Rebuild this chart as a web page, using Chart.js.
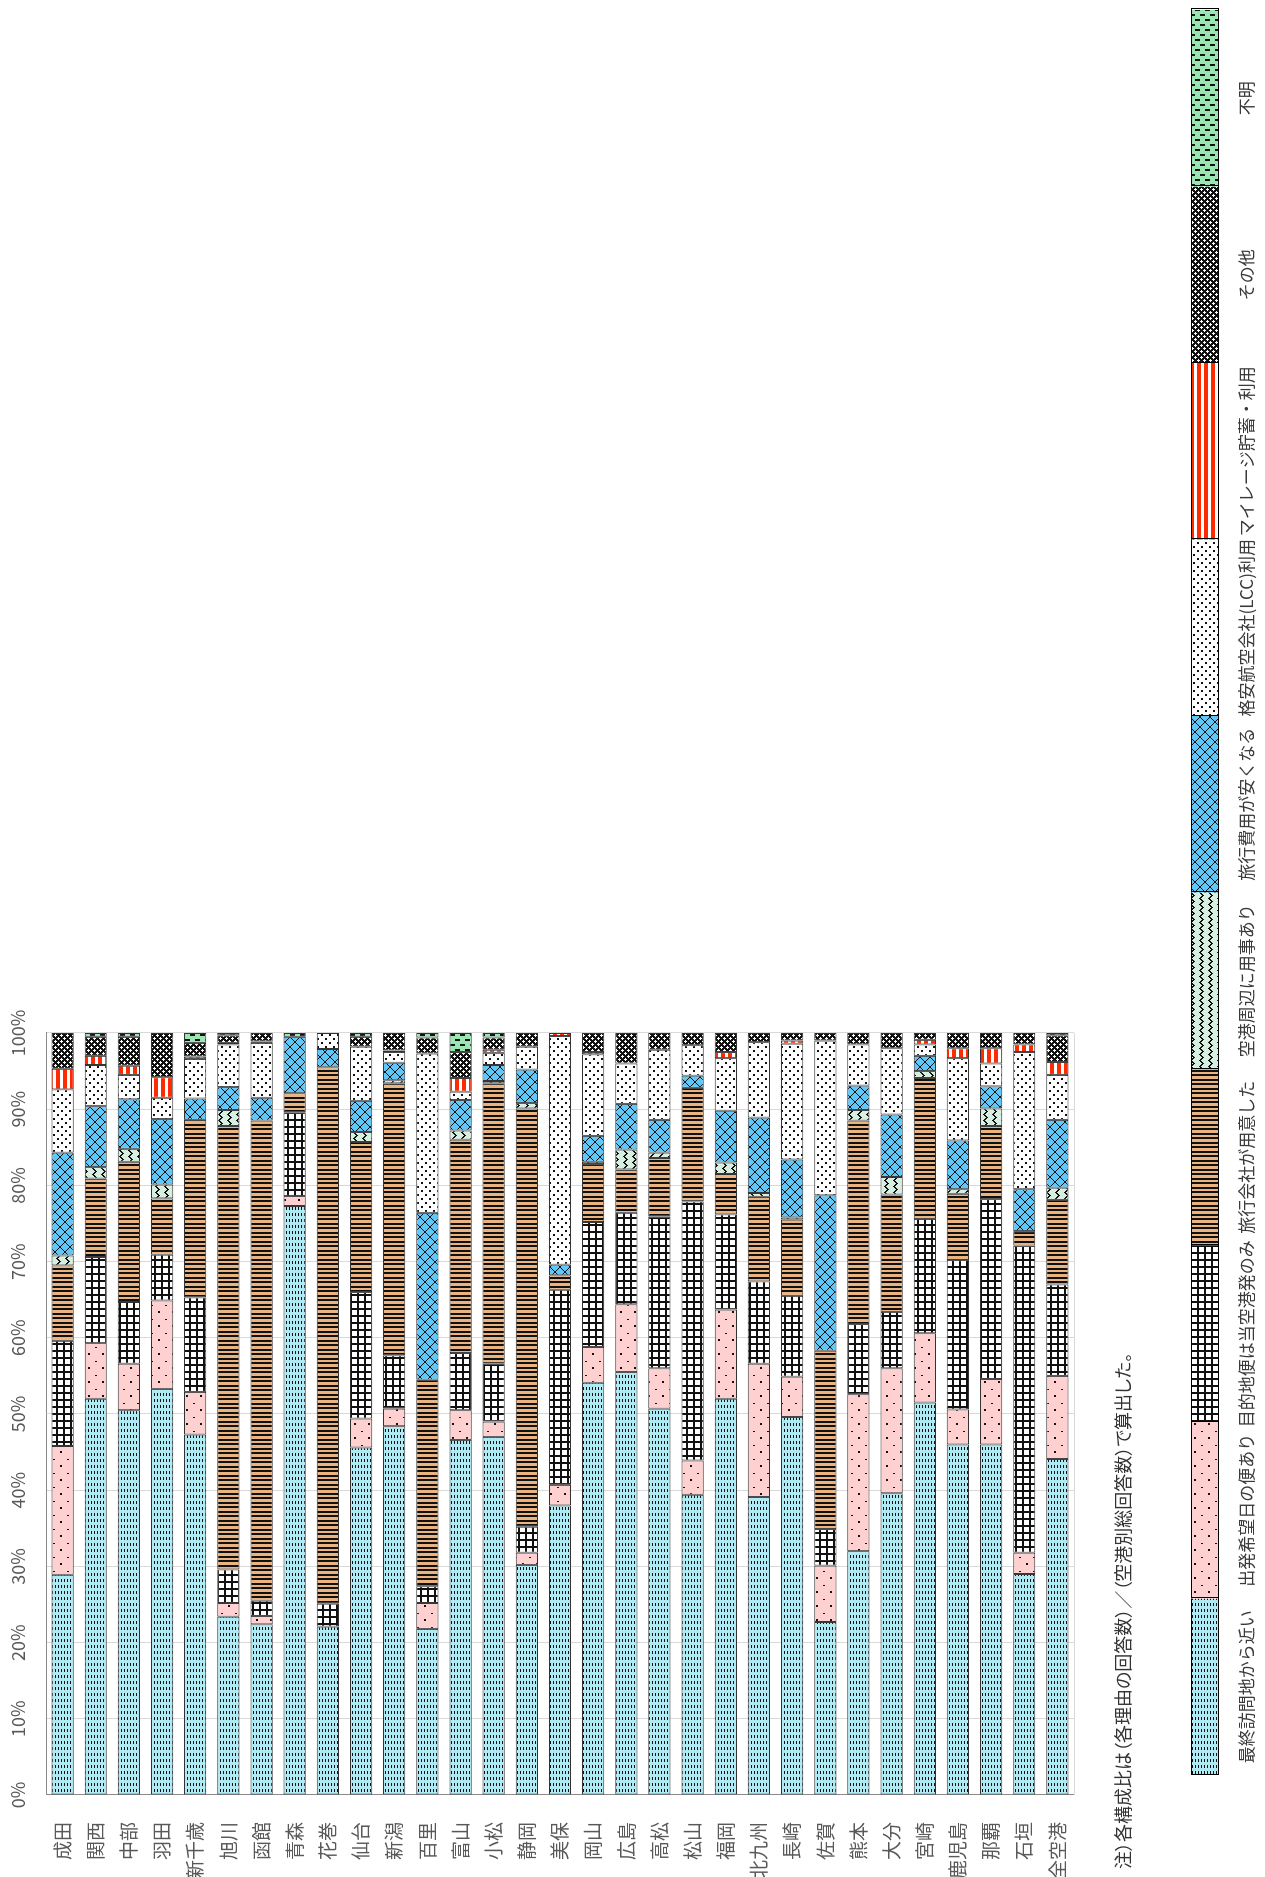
<!DOCTYPE html>
<html><head><meta charset="utf-8">
<script src="https://cdn.jsdelivr.net/npm/chart.js@4.4.1/dist/chart.umd.min.js"></script>
<style>
html,body{margin:0;padding:0;background:#fff;overflow:hidden;width:1265px;height:1877px;}
#stage{position:absolute;left:0;top:0;width:1877px;height:1265px;transform-origin:0 0;transform:translateY(1877px) rotate(-90deg);background:#fff;}
#chart{position:absolute;left:0;top:0;}
#note{position:absolute;left:8px;top:1110px;font-family:"Noto Sans CJK JP";font-size:18px;line-height:24px;color:#333;white-space:nowrap;font-feature-settings:"palt";}
</style></head>
<body>
<div id="stage"><canvas id="chart" width="1877" height="1265"></canvas>
<div id="note">注）各構成比は（各理由の回答数）／（空港別総回答数）で算出した。</div></div>
<script>
const categories = ['成田','関西','中部','羽田','新千歳','旭川','函館','青森','花巻','仙台','新潟','百里','富山','小松','静岡','美保','岡山','広島','高松','松山','福岡','北九州','長崎','佐賀','熊本','大分','宮崎','鹿児島','那覇','石垣','全空港'];
const seriesNames = ['最終訪問地から近い','出発希望日の便あり','目的地便は当空港発のみ','旅行会社が用意した','空港周辺に用事あり','旅行費用が安くなる','格安航空会社(LCC)利用','マイレージ貯蓄・利用','その他','不明'];
const valueTicks = ['0%','10%','20%','30%','40%','50%','60%','70%','80%','90%','100%'];

const closeToLastVisit = [28.9,52.0,50.5,53.3,47.3,23.4,22.4,77.3,22.1,45.6,48.4,21.8,46.6,47.0,30.2,38.0,54.1,55.5,50.7,39.4,52.0,39.1,49.6,22.7,32.0,39.6,51.5,46.0,46.0,29.0,44.1];
const desiredDateFlight = [16.9,7.3,6.1,11.6,5.6,1.8,1.1,1.3,0,3.8,2.3,3.4,3.9,2.0,1.6,2.7,4.7,8.9,5.3,4.5,11.7,17.5,5.3,7.4,20.6,16.4,9.1,4.6,8.6,2.8,10.9];
const onlyFromThisAirport = [13.8,11.3,8.1,6.0,12.4,4.4,2.0,11.0,3.0,16.6,7.0,2.2,7.5,7.6,3.4,25.6,16.4,12.0,19.9,34.0,12.5,10.8,10.6,4.8,9.2,7.4,15.0,19.6,23.6,40.3,12.0];
const travelAgency = [9.9,10.3,18.4,7.4,23.3,58.2,63.0,2.5,70.4,19.7,35.7,27.1,28.0,36.8,54.9,1.9,7.6,5.7,7.7,14.9,5.3,11.1,10.0,23.4,26.7,15.4,18.5,8.7,9.6,1.9,11.1];
const errandNearAirport = [1.3,1.5,1.7,1.8,0,2.1,0,0,0,1.3,0.4,0,1.2,0.3,0.7,0,0.3,2.6,0.7,0,1.5,0.5,0.3,0,1.4,2.3,0.9,0.6,2.3,0,1.6];
const cheaperCost = [13.5,8.0,6.5,8.6,2.8,3.0,3.0,7.4,2.4,4.1,2.3,21.9,4.0,2.1,4.4,1.4,3.4,6.0,4.3,1.6,6.8,9.9,7.6,20.4,3.2,8.2,2.0,6.4,2.9,5.5,8.9];
const lccUse = [8.3,5.4,3.2,2.8,5.2,5.6,7.2,0,2.1,7.1,1.4,20.9,1.1,1.6,3.0,30.0,10.7,5.3,9.2,4.0,6.9,9.9,15.2,20.3,5.4,8.7,1.5,10.8,3.0,18.0,5.9];
const mileage = [2.7,1.2,1.2,2.7,0.3,0.2,0.2,0,0,0,0.2,0,1.8,0.4,0,0.4,0.3,0,0,0,0.8,0,0.4,0,0,0,0.6,1.3,2.0,1.0,1.7];
const other = [4.7,2.5,3.8,5.8,1.8,1.0,1.1,0,0,1.3,2.3,2.1,3.4,1.6,1.8,0,2.5,4.0,2.2,1.6,2.5,1.2,1.0,1.0,1.5,2.0,0.9,2.0,2.0,1.5,3.5];
const unknown = [0,0.5,0.5,0,1.3,0.3,0,0.5,0,0.5,0,0.6,2.5,0.6,0,0,0,0,0,0,0,0,0,0,0,0,0,0,0,0,0.3];

function makePattern(w, h, draw) {
  const c = document.createElement('canvas'); c.width = w; c.height = h;
  const g = c.getContext('2d'); draw(g);
  return g.createPattern(c, 'repeat');
}
const K = '#111';
const patterns = [
  makePattern(6, 3, g => { g.fillStyle = '#aeeaf4'; g.fillRect(0,0,6,3); g.fillStyle = K; g.fillRect(1,1,3,1); }),
  makePattern(14, 14, g => { g.fillStyle = '#ffd0d0'; g.fillRect(0,0,14,14); g.fillStyle = K; g.fillRect(4,4,2,2); g.fillRect(11,11,1,2); }),
  makePattern(7, 7, g => { g.fillStyle = '#fff'; g.fillRect(0,0,7,7); g.fillStyle = K; g.fillRect(0,0,7,2); g.fillRect(0,0,2,7); }),
  makePattern(9, 1, g => { g.fillStyle = '#ebb37f'; g.fillRect(0,0,9,1); g.fillStyle = K; g.fillRect(0,0,2,1); g.fillRect(4,0,2,1); }),
  makePattern(6, 9, g => { g.fillStyle = '#d6efe0'; g.fillRect(0,0,6,9); g.fillStyle = K; [[0,2],[1,3],[2,4],[3,5],[4,4],[5,3]].forEach(p => g.fillRect(p[0],p[1],1,2)); }),
  makePattern(10, 10, g => { g.fillStyle = '#5fc8f8'; g.fillRect(0,0,10,10); g.strokeStyle = K; g.lineWidth = 1; g.beginPath(); g.moveTo(0,0); g.lineTo(10,10); g.moveTo(10,0); g.lineTo(0,10); g.stroke(); }),
  makePattern(8, 8, g => { g.fillStyle = '#fff'; g.fillRect(0,0,8,8); g.fillStyle = K; g.fillRect(1,1,2,2); g.fillRect(5,5,2,2); }),
  makePattern(1, 7, g => { g.fillStyle = '#fff'; g.fillRect(0,0,1,7); g.fillStyle = '#ff2a00'; g.fillRect(0,0,1,4); }),
  makePattern(6, 6, g => { g.fillStyle = '#111'; g.fillRect(0,0,6,6); g.fillStyle = '#fff'; [[1,0],[0,1],[1,1],[2,1],[1,2],[4,3],[3,4],[4,4],[5,4],[4,5]].forEach(p => g.fillRect(p[0],p[1],1,1)); }),
  makePattern(10, 10, g => { g.fillStyle = '#99e6b3'; g.fillRect(0,0,10,10); g.fillStyle = K; g.fillRect(1,0,2,5); g.fillRect(6,5,2,5); })
];

const seriesData = [closeToLastVisit, desiredDateFlight, onlyFromThisAirport, travelAgency, errandNearAirport, cheaperCost, lccUse, mileage, other, unknown];

const stripLegend = {
  id: 'stripLegend',
  afterDraw(chart) {
    const ctx = chart.ctx;
    const x0 = 102, w = 176.5, y0 = 1191, h = 27;
    ctx.save();
    chart.data.datasets.forEach((d, i) => {
      const x = x0 + i * w;
      ctx.fillStyle = d.backgroundColor;
      ctx.fillRect(x, y0, w, h);
      ctx.strokeStyle = '#000'; ctx.lineWidth = 1;
      ctx.strokeRect(Math.round(x) + 0.5, y0 + 0.5, Math.round(w), h);
      ctx.fillStyle = '#3a3a3a';
      ctx.font = '17px "Noto Sans CJK JP"';
      ctx.textAlign = 'center'; ctx.textBaseline = 'middle';
      ctx.fillText(d.label, x + w / 2, 1247);
    });
    ctx.restore();
  }
};
const bottomEdge = {
  id: 'bottomEdge',
  beforeDatasetsDraw(chart) {
    const {ctx, chartArea: a} = chart;
    ctx.save(); ctx.strokeStyle = '#d9d9d9'; ctx.lineWidth = 1;
    ctx.beginPath(); ctx.moveTo(a.left, Math.round(a.bottom) + 0.5); ctx.lineTo(a.right, Math.round(a.bottom) + 0.5); ctx.stroke();
    ctx.restore();
  }
};

new Chart(document.getElementById('chart'), {
  type: 'bar',
  data: {
    labels: categories,
    datasets: seriesData.map((arr, i) => ({
      label: seriesNames[i], data: arr, backgroundColor: patterns[i],
      borderColor: '#333', borderWidth: 1, borderSkipped: false,
      categoryPercentage: 1, barPercentage: 0.67
    }))
  },
  options: {
    indexAxis: 'y', responsive: false, animation: false, devicePixelRatio: 1,
    layout: { padding: { left: 0, top: 0, right: 1033, bottom: 191 } },
    plugins: { legend: { display: false }, tooltip: { enabled: false } },
    scales: {
      x: {
        position: 'top', stacked: true, min: 0, max: 100,
        afterFit: s => { s.height = 46; },
        grid: { color: '#d9d9d9', drawTicks: false },
        border: { color: '#898989' },
        ticks: { stepSize: 10, padding: 17, color: '#595959', font: { family: 'Noto Sans CJK JP', size: 18 },
          callback: (v, i) => valueTicks[i] }
      },
      y: {
        stacked: true,
        afterFit: s => { s.width = 82; },
        grid: { display: false },
        border: { color: '#898989' },
        ticks: { padding: 19, color: '#595959', font: { family: 'Noto Sans CJK JP', size: 19 } }
      }
    }
  },
  plugins: [stripLegend, bottomEdge]
});
</script>
</body></html>
